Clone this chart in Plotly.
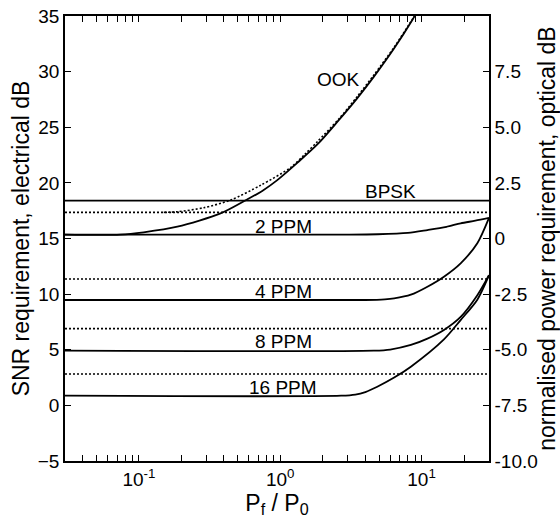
import math
import plotly.graph_objects as go

# ---------------- data ----------------
x_min, x_max = 0.03, 30.0

# OOK (solid)
ook_x = [0.03, 0.074, 0.108, 0.187, 0.378, 0.553, 0.75, 0.953, 1.32, 1.83, 2.54, 3.5, 4.6, 6.4, 8.6, 9.4]
ook_y = [15.35, 15.35, 15.56, 16.06, 17.26, 18.35, 19.3, 20.25, 21.8, 23.45, 25.5, 27.6, 29.55, 32.1, 34.64, 35.5]

# OOK (dotted)
ook_d_x = [0.15, 0.187, 0.288, 0.446, 0.73, 1.19, 1.5, 1.83, 2.6, 3.5, 4.6, 6.4, 8.6, 9.4]
ook_d_y = [17.35, 17.4, 17.77, 18.46, 19.8, 21.4, 22.6, 23.7, 25.75, 27.75, 29.7, 32.2, 34.7, 35.5]

# BPSK (solid, flat)
bpsk_x = [0.03, 30.0]
bpsk_y = [18.4, 18.4]

# PPM curves (solid)
ppm2_x = [0.03, 3.0, 4.9, 8.0, 11.0, 15.0, 18.9, 24.0, 30.0]
ppm2_y = [15.35, 15.35, 15.38, 15.5, 15.76, 16.05, 16.36, 16.6, 16.85]

ppm4_x = [0.03, 4.0, 5.5, 6.4, 8.4, 11.0, 14.4, 18.9, 24.8, 30.0]
ppm4_y = [9.47, 9.47, 9.53, 9.62, 9.95, 10.67, 11.57, 12.77, 14.57, 16.85]

ppm8_x = [0.03, 4.6, 6.0, 8.4, 11.0, 14.4, 18.9, 24.8, 30.0]
ppm8_y = [4.92, 4.92, 5.02, 5.43, 6.0, 6.78, 7.95, 9.9, 11.7]

ppm16_x = [0.03, 2.7, 3.4, 4.0, 4.86, 6.4, 8.4, 14.4, 18.9, 24.8, 30.0]
ppm16_y = [0.87, 0.87, 0.97, 1.2, 1.68, 2.5, 3.48, 5.93, 7.67, 9.5, 11.7]

# dotted horizontal levels
dotted_levels = [17.35, 11.36, 6.9, 2.82]

# labels
label_text = ["OOK", "BPSK", "2 PPM", "4 PPM", "8 PPM", "16 PPM"]
label_x = [2.6, 6.04, 1.05, 1.05, 1.05, 1.05]
label_y = [29.25, 19.2, 16.1, 10.2, 5.7, 1.6]

# ticks
x_minor_ticks = [m * 10 ** e for e in (-2, -1, 0, 1) for m in range(1, 10)]
x_minor_ticks = [v for v in x_minor_ticks if x_min <= v <= x_max]
x_major = {0.1: "10<sup>-1</sup>", 1.0: "10<sup>0</sup>", 10.0: "10<sup>1</sup>"}
y_left_ticks = [-5, 0, 5, 10, 15, 20, 25, 30, 35]
y_right_ticks = [-10, -7.5, -5, -2.5, 0, 2.5, 5, 7.5]
y_right_text = ["-10.0", "-7.5", "-5.0", "-2.5", "0", "2.5", "5.0", "7.5"]

# ---------------- figure ----------------
FONT = "Liberation Sans, Arial, sans-serif"
LW = 1.8
fig = go.Figure()

solid = dict(color="black", width=LW)
dotted = dict(color="black", width=1.6, dash="2px,2px")

for xs, ys in [(ppm2_x, ppm2_y), (ppm4_x, ppm4_y), (ppm8_x, ppm8_y),
               (ppm16_x, ppm16_y), (ook_x, ook_y), (bpsk_x, bpsk_y)]:
    fig.add_trace(go.Scatter(x=xs, y=ys, mode="lines", line=dict(shape="spline", smoothing=0.8, **solid),
                             showlegend=False, hoverinfo="skip"))

fig.add_trace(go.Scatter(x=ook_d_x, y=ook_d_y, mode="lines",
                         line=dict(shape="spline", smoothing=0.8, **dotted),
                         showlegend=False, hoverinfo="skip"))
for lv in dotted_levels:
    fig.add_trace(go.Scatter(x=[x_min, x_max], y=[lv, lv], mode="lines", line=dotted,
                             showlegend=False, hoverinfo="skip"))

# invisible trace to activate right axis
fig.add_trace(go.Scatter(x=[x_min], y=[0], yaxis="y2", mode="lines", showlegend=False,
                         hoverinfo="skip", line=dict(color="rgba(0,0,0,0)")))

for t, lx, ly in zip(label_text, label_x, label_y):
    fig.add_annotation(x=math.log10(lx), y=ly, text=t, showarrow=False,
                       font=dict(size=19, color="black", family=FONT))

fig.update_layout(
    width=560, height=530,
    margin=dict(l=65, r=71, t=16, b=69),
    plot_bgcolor="white", paper_bgcolor="white",
    font=dict(family=FONT, size=19, color="black"),
    xaxis=dict(
        type="log", range=[math.log10(x_min), math.log10(x_max)],
        tickvals=x_minor_ticks,
        ticktext=[x_major.get(round(v, 6), "") for v in x_minor_ticks],
        ticks="inside", ticklen=6, tickwidth=1, tickcolor="black",
        showline=True, linecolor="black", linewidth=1.5, mirror="ticks",
        showgrid=False, zeroline=False, automargin=False,
        title=dict(text="P<sub>f</sub> / P<sub>0</sub>", standoff=6),
    ),
    yaxis=dict(
        range=[-5, 35], tickvals=y_left_ticks,
        ticks="inside", ticklen=6, tickwidth=1, tickcolor="black",
        showline=True, linecolor="black", linewidth=1.5,
        showgrid=False, zeroline=False, automargin=False,
        title=dict(text="SNR requirement, electrical dB", standoff=2),
    ),
    yaxis2=dict(
        overlaying="y", side="right", range=[-10, 10],
        tickvals=y_right_ticks, ticktext=y_right_text,
        ticks="inside", ticklen=6, tickwidth=1, tickcolor="black",
        showline=True, linecolor="black", linewidth=1.5,
        showgrid=False, zeroline=False, automargin=False,
        title=dict(text="normalised power requirement, optical dB", standoff=0),
    ),
)

fig.write_html("out.html")
